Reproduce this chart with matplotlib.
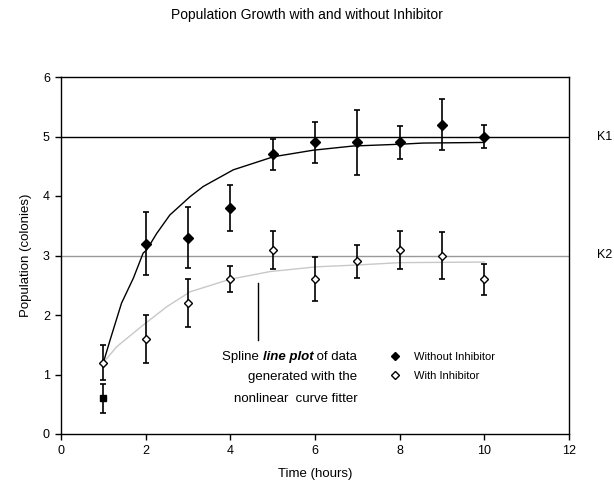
import matplotlib
matplotlib.use("Agg")
import matplotlib.pyplot as plt
from matplotlib.lines import Line2D
from matplotlib.offsetbox import TextArea, HPacker, AnnotationBbox

plt.rcParams['font.family'] = ['Liberation Sans', 'DejaVu Sans']

# Data
time = [1, 2, 3, 4, 5, 6, 7, 8, 9, 10]
without_inh = [0.6, 3.2, 3.3, 3.8, 4.7, 4.9, 4.9, 4.9, 5.2, 5.0]
without_err = [0.24, 0.53, 0.51, 0.39, 0.26, 0.34, 0.54, 0.28, 0.43, 0.20]
with_inh = [1.2, 1.6, 2.2, 2.6, 3.1, 2.6, 2.9, 3.1, 3.0, 2.6]
with_err = [0.30, 0.40, 0.40, 0.22, 0.32, 0.37, 0.28, 0.32, 0.39, 0.26]

# Spline fit curves
fit1_x = [1.0, 1.16, 1.43, 1.71, 1.94, 2.02, 2.26, 2.57, 3.05, 3.36, 4.07, 5.02, 5.96, 6.9, 8.0, 8.56, 10.0]
fit1_y = [1.2, 1.58, 2.2, 2.62, 3.04, 3.09, 3.37, 3.68, 3.99, 4.16, 4.44, 4.66, 4.77, 4.84, 4.87, 4.89, 4.90]
fit2_x = [1.0, 1.32, 1.94, 2.5, 3.05, 3.99, 4.94, 6.04, 6.98, 8.0, 10.0]
fit2_y = [1.2, 1.47, 1.83, 2.14, 2.39, 2.60, 2.73, 2.81, 2.84, 2.88, 2.89]

K1, K2 = 5.0, 3.0
xticks = [0, 2, 4, 6, 8, 10, 12]
yticks = [0, 1, 2, 3, 4, 5, 6]

fig = plt.figure(figsize=(6.14, 4.96), dpi=100)
ax = fig.add_axes([61/614, 62/496, 508/614, 357/496])

ax.axhline(K1, color='black', lw=1.0, zorder=1)
ax.axhline(K2, color='#999999', lw=1.0, zorder=1)

ax.plot(fit1_x, fit1_y, color='black', lw=1.0, zorder=2)
ax.plot(fit2_x, fit2_y, color='#c8c8c8', lw=1.0, zorder=2)

ax.errorbar(time, without_inh, yerr=without_err, fmt='none', ecolor='black',
            elinewidth=1.2, capsize=2.5, capthick=1.2, zorder=3)
ax.errorbar(time, with_inh, yerr=with_err, fmt='none', ecolor='black',
            elinewidth=1.2, capsize=2.5, capthick=1.2, zorder=3)
ax.plot(time[:1], without_inh[:1], 's', color='black', ms=4.5, zorder=4)
ax.plot(time[1:], without_inh[1:], 'D', color='black', ms=5, zorder=4)
ax.plot(time, with_inh, 'D', mfc='white', mec='black', mew=1.0, ms=4.5, zorder=4)

ax.set_xlim(0, 12)
ax.set_ylim(0, 6)
ax.set_xticks(xticks)
ax.set_yticks(yticks)
ax.tick_params(direction='out', length=4, width=1, labelsize=9, pad=4)
for s in ax.spines.values():
    s.set_linewidth(1.0)

ax.set_xlabel('Time (hours)', fontsize=9.5, labelpad=8)
ax.set_ylabel('Population (colonies)', fontsize=9.5, labelpad=8)
fig.text(0.5, 1 - 15/496, 'Population Growth with and without Inhibitor',
         ha='center', va='center', fontsize=10)

# K labels
ax.text(12.65, K1, 'K1', fontsize=9, va='center', ha='left')
ax.text(12.65, K2, 'K2', fontsize=9, va='center', ha='left')

# Annotation
ax.plot([4.66, 4.66], [1.58, 2.53], color='black', lw=1.0)
tp = dict(fontsize=9.5)
line1 = HPacker(children=[TextArea('Spline ', textprops=tp),
                          TextArea('line plot', textprops=dict(fontsize=9.5, fontweight='bold', fontstyle='italic')),
                          TextArea(' of data', textprops=tp)], pad=0, sep=0)
ab = AnnotationBbox(line1, (7.0, 1.3), xycoords='data', box_alignment=(1, 0.5),
                    frameon=False, pad=0)
ax.add_artist(ab)
ax.text(7.0, 0.95, 'generated with the', ha='right', va='center', fontsize=9.5)
ax.text(7.0, 0.58, 'nonlinear  curve fitter', ha='right', va='center', fontsize=9.5)

handles = [Line2D([], [], marker='D', color='black', ls='none', ms=4),
           Line2D([], [], marker='D', mfc='white', mec='black', ls='none', ms=4)]
ax.legend(handles, ['Without Inhibitor', 'With Inhibitor'], loc='upper left',
          bbox_to_anchor=(0.635, 0.245), frameon=False, fontsize=8,
          handlelength=1.0, handletextpad=1.2, labelspacing=0.8, borderpad=0)

fig.savefig('out.png', dpi=100)
